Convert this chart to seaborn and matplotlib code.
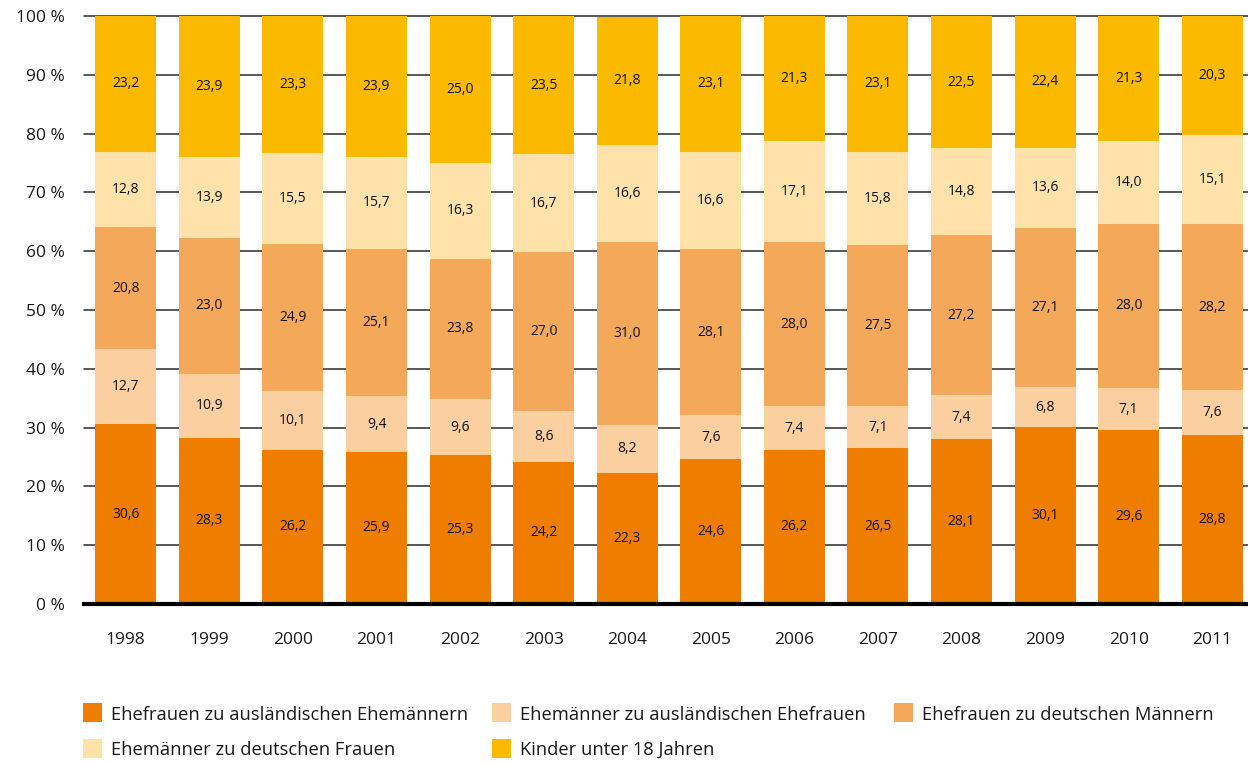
import matplotlib
matplotlib.use("Agg")
import matplotlib.pyplot as plt
import seaborn as sns
import numpy as np
import pandas as pd
from matplotlib.patches import Rectangle

years = ["1998", "1999", "2000", "2001", "2002", "2003", "2004",
         "2005", "2006", "2007", "2008", "2009", "2010", "2011"]
ehefrauen_ausl = [30.6, 28.3, 26.2, 25.9, 25.3, 24.2, 22.3, 24.6, 26.2, 26.5, 28.1, 30.1, 29.6, 28.8]
ehemaenner_ausl = [12.7, 10.9, 10.1, 9.4, 9.6, 8.6, 8.2, 7.6, 7.4, 7.1, 7.4, 6.8, 7.1, 7.6]
ehefrauen_dt = [20.8, 23.0, 24.9, 25.1, 23.8, 27.0, 31.0, 28.1, 28.0, 27.5, 27.2, 27.1, 28.0, 28.2]
ehemaenner_dt = [12.8, 13.9, 15.5, 15.7, 16.3, 16.7, 16.6, 16.6, 17.1, 15.8, 14.8, 13.6, 14.0, 15.1]
kinder = [23.2, 23.9, 23.3, 23.9, 25.0, 23.5, 21.8, 23.1, 21.3, 23.1, 22.5, 22.4, 21.3, 20.3]

series_names = ["Ehefrauen zu ausländischen Ehemännern",
                "Ehemänner zu ausländischen Ehefrauen",
                "Ehefrauen zu deutschen Männern",
                "Ehemänner zu deutschen Frauen",
                "Kinder unter 18 Jahren"]
series_values = [ehefrauen_ausl, ehemaenner_ausl, ehefrauen_dt, ehemaenner_dt, kinder]
colors = ["#EE7D00", "#FBCFA0", "#F4A85A", "#FFE2AA", "#FBB900"]

sns.set_theme(style="white")
plt.rcParams["font.family"] = ["Open Sans", "DejaVu Sans"]

W, H = 1248, 764
fig = plt.figure(figsize=(W / 100, H / 100), dpi=100)
ax = fig.add_axes([84 / W, 1 - 604 / H, (1254 - 84) / W, (604 - 16) / H])

vals = np.array(series_values)
cum = np.cumsum(vals, axis=0)
bottoms = cum - vals

# draw cumulative totals from top to bottom so that they overlap as stacks
for i in range(len(series_names) - 1, -1, -1):
    df = pd.DataFrame({"year": years, "value": cum[i]})
    sns.barplot(data=df, x="year", y="value", color=colors[i], width=0.73,
                saturation=1, ax=ax, zorder=2, linewidth=0)

for i in range(len(series_names)):
    for j in range(len(years)):
        mid = bottoms[i, j] + vals[i, j] / 2
        ax.text(j, mid, f"{vals[i, j]:.1f}".replace(".", ","), ha="center", va="center",
                fontsize=10, color="#111111", zorder=3)

ax.set_ylim(0, 100)
ax.set_xlim(-0.5, 13.5)
ax.set_yticks(np.arange(0, 101, 10))
ax.set_yticklabels([f"{v} %" for v in range(0, 101, 10)], fontsize=12.5, color="#1a1a1a")
ax.tick_params(axis="y", length=0, pad=14)
ax.tick_params(axis="x", which="major", length=0, pad=20, labelsize=12.5, labelcolor="#1a1a1a")
ax.set_xticks(np.arange(-0.5, 14, 1), minor=True)
ax.tick_params(axis="x", which="minor", length=15, width=1.3, color="#1a1a1a", direction="out")
for y in range(10, 101, 10):
    ax.axhline(y, color="#2a2a2a", linewidth=1.1, zorder=1, clip_on=False)
ax.set_xlabel("")
ax.set_ylabel("")
for s in ["top", "right", "left"]:
    ax.spines[s].set_visible(False)
ax.spines["bottom"].set_linewidth(3)
ax.spines["bottom"].set_color("black")
ax.spines["bottom"].set_zorder(4)

# legend laid out row-major in three columns
col_x = [83, 492, 894]
row_y = [712.5, 748]
for k, (name, c) in enumerate(zip(series_names, colors)):
    r, cidx = divmod(k, 3)
    x0 = col_x[cidx]
    yc = row_y[r]
    fig.patches.append(Rectangle((x0 / W, 1 - (yc + 9.5) / H), 19 / W, 19 / H,
                                 transform=fig.transFigure, facecolor=c,
                                 edgecolor="none", figure=fig))
    fig.text((x0 + 28) / W, 1 - yc / H, name, ha="left", va="center_baseline",
             fontsize=13.2, color="#1a1a1a")

fig.savefig("out.png", dpi=100)
